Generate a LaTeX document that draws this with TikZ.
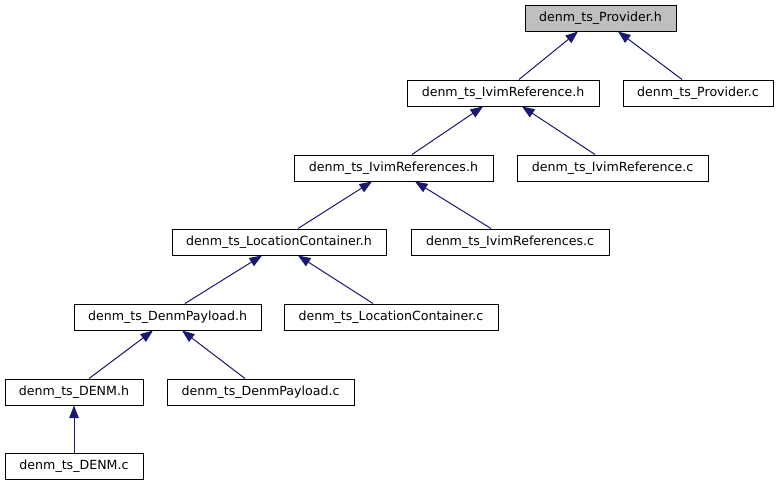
\documentclass[tikz,border=0pt]{standalone}
\usepackage{fontspec}
\setmainfont{DejaVu Sans}
\usetikzlibrary{arrows.meta}
\definecolor{edgeblue}{HTML}{191970}
\definecolor{rootgray}{HTML}{BFBFBF}
\begin{document}
\begin{tikzpicture}[x=1pt,y=-1pt,
  filebox/.style={draw=black,line width=1pt,fill=white,minimum height=26pt,inner sep=0pt,
    font=\fontsize{12.6}{15}\selectfont},
  rootbox/.style={filebox,fill=rootgray},
  dep/.style={draw=edgeblue,line width=1pt,-{Triangle[length=12.5pt,width=9.5pt]},color=edgeblue}]
\useasboundingbox (0,0) rectangle (778,485);
\node[rootbox,minimum width=151pt] (ph) at (600.5,18) {denm\_ts\_Provider.h};
\node[filebox,minimum width=192pt] (irh) at (503,93) {denm\_ts\_IvimReference.h};
\node[filebox,minimum width=150pt] (pc) at (698,93) {denm\_ts\_Provider.c};
\node[filebox,minimum width=199pt] (irsh) at (393.5,168) {denm\_ts\_IvimReferences.h};
\node[filebox,minimum width=191pt] (irc) at (612.5,168) {denm\_ts\_IvimReference.c};
\node[filebox,minimum width=214pt] (lch) at (279,242) {denm\_ts\_LocationContainer.h};
\node[filebox,minimum width=198pt] (irsc) at (510,242) {denm\_ts\_IvimReferences.c};
\node[filebox,minimum width=187pt] (dph) at (167.5,317) {denm\_ts\_DenmPayload.h};
\node[filebox,minimum width=214pt] (lcc) at (391,317) {denm\_ts\_LocationContainer.c};
\node[filebox,minimum width=138pt] (dh) at (74,392) {denm\_ts\_DENM.h};
\node[filebox,minimum width=187pt] (dpc) at (260.5,392) {denm\_ts\_DenmPayload.c};
\node[filebox,minimum width=138pt] (dc) at (74,466) {denm\_ts\_DENM.c};
\draw[dep] ([xshift=16pt]irh.north) -- ([xshift=-22.5pt]ph.south);
\draw[dep] ([xshift=-16pt]pc.north) -- ([xshift=17.5pt]ph.south);
\draw[dep] ([xshift=18.5pt]irsh.north) -- ([xshift=-20pt]irh.south);
\draw[dep] ([xshift=-17.5pt]irc.north) -- ([xshift=19pt]irh.south);
\draw[dep] ([xshift=19pt]lch.north) -- ([xshift=-21.5pt]irsh.south);
\draw[dep] ([xshift=-19pt]irsc.north) -- ([xshift=21.5pt]irsh.south);
\draw[dep] ([xshift=17.5pt]dph.north) -- ([xshift=-17pt]lch.south);
\draw[dep] ([xshift=-18pt]lcc.north) -- ([xshift=19pt]lch.south);
\draw[dep] ([xshift=15pt]dh.north) -- ([xshift=-14.5pt]dph.south);
\draw[dep] ([xshift=-15.5pt]dpc.north) -- ([xshift=14.5pt]dph.south);
\draw[dep] (dc.north) -- (dh.south);
\end{tikzpicture}
\end{document}
